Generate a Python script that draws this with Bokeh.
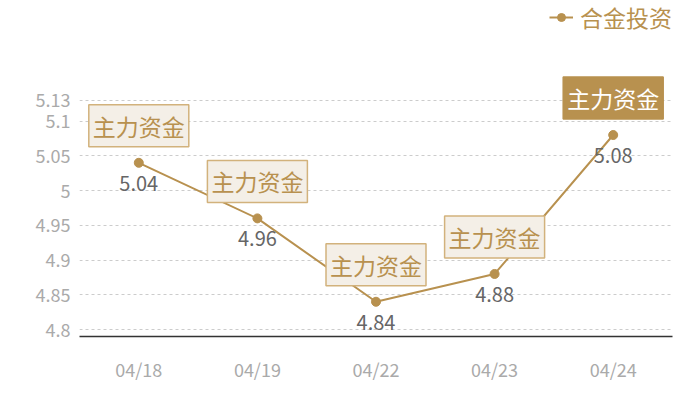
from bokeh.plotting import figure
from bokeh.models import Range1d, FixedTicker, Label, Legend, LegendItem, ColumnDataSource, LabelSet
from bokeh.core.properties import value
from bokeh.embed import file_html
from bokeh.resources import INLINE

# ---- data ----
dates = ["04/18", "04/19", "04/22", "04/23", "04/24"]
values = [5.04, 4.96, 4.84, 4.88, 5.08]
value_labels = ["5.04", "4.96", "4.84", "4.88", "5.08"]
tag_text = "主力资金"
highlight = [False, False, False, False, True]
series_name = "合金投资"
y_ticks = [4.8, 4.85, 4.9, 4.95, 5.0, 5.05, 5.1, 5.13]
y_tick_labels = ["4.8", "4.85", "4.9", "4.95", "5", "5.05", "5.1", "5.13"]

GOLD = "#b8914f"
CJK = "Noto Sans CJK SC"

p = figure(x_range=dates, y_range=Range1d(4.79, 5.2736), width=684, height=384,
           output_backend="svg", toolbar_location=None,
           min_border_left=79, min_border_right=12, min_border_bottom=47, min_border_top=0)
p.outline_line_color = None
p.background_fill_color = "white"
p.border_fill_color = "white"

p.xgrid.visible = False
p.ygrid.grid_line_color = "#cccccc"
p.ygrid.grid_line_dash = "3 3"
p.ygrid.grid_line_width = 1

p.yaxis.ticker = FixedTicker(ticks=y_ticks)
p.yaxis.major_label_overrides = dict(zip(y_ticks, y_tick_labels))
p.yaxis.axis_line_color = None
p.yaxis.major_tick_line_color = None
p.yaxis.minor_tick_line_color = None
p.yaxis.major_tick_out = 0
p.yaxis.major_label_standoff = 9
p.yaxis.major_label_text_color = "#aaaaaa"
p.yaxis.major_label_text_font = CJK
p.yaxis.major_label_text_font_size = "18px"

p.xaxis.axis_line_color = "#333333"
p.xaxis.axis_line_width = 1.5
p.xaxis.major_tick_line_color = None
p.xaxis.major_tick_out = 0
p.xaxis.major_label_standoff = 19
p.xaxis.major_label_text_color = "#aaaaaa"
p.xaxis.major_label_text_font = CJK
p.xaxis.major_label_text_font_size = "18px"

src = ColumnDataSource(dict(x=dates, y=values, lbl=value_labels))
ln = p.line("x", "y", source=src, line_color=GOLD, line_width=2)
sc = p.scatter("x", "y", source=src, size=9, fill_color=GOLD, line_color=GOLD)

vl = LabelSet(x="x", y="y", text="lbl", source=src, text_align="center", text_baseline="top",
              y_offset=-13, text_color="#666666", text_font=value(CJK), text_font_size="20px")
p.add_layout(vl)

for i, (v, hl) in enumerate(zip(values, highlight)):
    lab = Label(x=i + 0.5, y=v, text=tag_text, y_offset=16, text_align="center", text_baseline="bottom",
                text_font=CJK, text_font_size="23px",
                text_color="white" if hl else GOLD,
                background_fill_color=GOLD if hl else "#f4efe7",
                border_line_color=GOLD if hl else "#d2b27c", border_line_width=1.5,
                padding=4)
    p.add_layout(lab)

legend = Legend(items=[LegendItem(label=series_name, renderers=[ln, sc])], location="top_right",
                border_line_color=None, background_fill_alpha=0, margin=0, padding=0,
                label_text_color=GOLD, label_text_font=CJK, label_text_font_size="23px",
                glyph_width=24, label_standoff=7)
p.add_layout(legend)

open("out.html", "w").write(file_html(p, INLINE))
